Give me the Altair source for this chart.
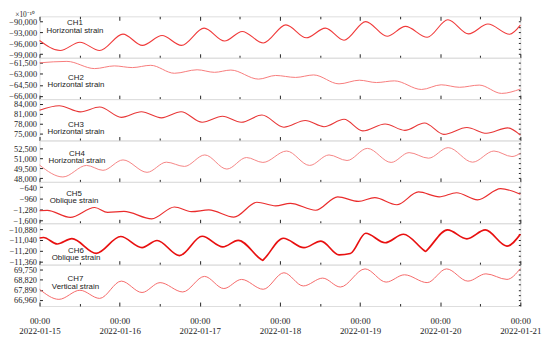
import altair as alt
import pandas as pd

# ---- data (hours after 2022-01-15 00:00, strain values x1e-10) ----
ch1_h = [0, 6.2, 12.1, 18.0, 25.0, 30.8, 36.7, 42.5, 49.3, 55.4, 60.7, 67.0, 73.8, 79.9, 85.6, 91.2, 97.7, 104.1, 109.6, 116.1, 122.3, 128.5, 134.3, 140.8, 144]
ch1_v = [-95230, -98010, -95720, -98010, -93460, -96590, -93870, -96590, -91820, -95370, -92720, -95910, -90920, -94490, -91820, -95150, -90000, -94060, -91330, -94330, -89500, -93400, -90680, -93510, -91000]

ch2_h = [0, 8.2, 16.5, 22.4, 27.8, 33.3, 40.4, 47.2, 52.4, 57.3, 65.6, 70.7, 76.7, 82.1, 89.7, 95.8, 100.9, 106.3, 114.4, 120.3, 125.8, 131.7, 138.4, 144]
ch2_v = [-61480, -61280, -62270, -61900, -62130, -61820, -62910, -62430, -62780, -62470, -63710, -63210, -63480, -63140, -64360, -63860, -64180, -63950, -65130, -64490, -64830, -64530, -65670, -65070]

ch3_h = [0, 5.9, 12.2, 18.0, 24.5, 30.5, 36.5, 42.4, 48.7, 54.8, 60.4, 66.6, 73.2, 79.6, 85.2, 91.2, 96.8, 103.5, 109.4, 115.3, 121.1, 128.0, 133.9, 140.2, 144]
ch3_v = [82080, 83430, 81580, 83050, 79960, 81640, 79810, 81640, 78490, 80260, 78490, 80640, 77020, 79020, 77170, 79370, 75930, 77990, 76080, 78260, 74880, 76930, 75200, 76820, 74670]

ch4_h = [0, 7.0, 14.1, 19.0, 25.0, 32.2, 38.0, 43.4, 49.5, 56.1, 62.0, 66.9, 74.0, 80.9, 86.7, 92.1, 98.2, 105.3, 110.7, 116.5, 122.4, 129.7, 136.1, 141.5, 144]
ch4_v = [49990, 48200, 49940, 49200, 50770, 48900, 50430, 49790, 51520, 49390, 51130, 50390, 52110, 49940, 51520, 50680, 52510, 50390, 51870, 51030, 52620, 50430, 52110, 51280, 51770]

ch5_h = [0, 2.3, 9.2, 16.5, 20.4, 25.3, 33.6, 40.4, 45.5, 50.7, 58.2, 65.1, 70.7, 75.1, 82.7, 89.3, 95.5, 100.4, 107.0, 113.5, 119.7, 124.9, 131.2, 138.1, 144]
ch5_v = [-1317, -1309, -1507, -1224, -1365, -1337, -1549, -1210, -1343, -1295, -1501, -1075, -1176, -1106, -1303, -919, -1049, -942, -1145, -778, -919, -801, -1004, -682, -843]

ch6_h = [0, 1.2, 5.3, 9.7, 17.0, 24.3, 30.7, 35.2, 41.9, 48.7, 54.9, 59.5, 66.3, 66.8, 67.3, 73.0, 79.2, 84.3, 89.7, 93.1, 97.7, 103.5, 109.0, 115.2, 115.6, 116.0, 122.2, 128.0, 133.5, 140.0, 144]
ch6_v = [-11011, -11004, -11099, -11021, -11237, -10989, -11152, -11048, -11270, -10985, -11142, -11045, -11325, -11340, -11318, -11014, -11154, -11056, -11259, -11240, -10941, -11081, -10955, -11196, -11210, -11192, -10892, -11023, -10892, -11131, -10956]

ch7_h = [0, 5.8, 12.1, 18.0, 24.5, 30.7, 36.1, 42.9, 49.4, 55.2, 60.5, 67.0, 73.2, 79.0, 84.8, 90.1, 97.5, 103.8, 109.3, 116.1, 121.9, 128.3, 133.7, 140.0, 144]
ch7_v = [67940, 67000, 67850, 67090, 68700, 67640, 68560, 67690, 69140, 68010, 68860, 67940, 69480, 68250, 68980, 68150, 69840, 68610, 69290, 68560, 69840, 68700, 69380, 68860, 69870]

channels = ["CH1", "CH2", "CH3", "CH4", "CH5", "CH6", "CH7"]
kinds = ["Horizontal strain", "Horizontal strain", "Horizontal strain", "Horizontal strain",
         "Oblique strain", "Oblique strain", "Vertical strain"]
y_ticks = [
    [-99000, -96000, -93000, -90000],
    [-66000, -64500, -63000, -61500],
    [75000, 78000, 81000, 84000],
    [48000, 49500, 51000, 52500],
    [-1600, -1280, -960, -640],
    [-11360, -11200, -11040, -10880],
    [66960, 67890, 68820, 69750],
]

hours = [ch1_h, ch2_h, ch3_h, ch4_h, ch5_h, ch6_h, ch7_h]
values = [ch1_v, ch2_v, ch3_v, ch4_v, ch5_v, ch6_v, ch7_v]

# ---- styling ----
y_domains = [
    [-100000, -88550],
    [-66450, -60780],
    [73050, 85400],
    [47460, 53700],
    [-1676, -490],
    [-11404, -10793],
    [66380, 70238],
]
colors = ["#f03a3a", "#f77b7b", "#e83636", "#f58484", "#ea2c2c", "#e81010", "#f56a6a"]
widths = [1.1, 1.0, 1.1, 1.0, 1.2, 1.7, 1.0]
label_x = [36, 37, 37, 38, 35, 37, 36.5]
label_y = [7.2, 20.2, 26.5, 14, 12.3, 28, 15]

W = 488
H = 42
SERIF = "Liberation Serif"
SANS = "Liberation Sans"
INK = "#222222"

major = list(range(0, 145, 24))
minor = list(range(12, 145, 24))


def panel(i):
    last = i == len(channels) - 1
    df = pd.DataFrame({"h": hours[i], "v": values[i]})
    xs = alt.Scale(domain=[0, 144], nice=False, zero=False)
    ys = alt.Scale(domain=y_domains[i], nice=False, zero=False)
    step = y_ticks[i][1] - y_ticks[i][0]
    half = [y_ticks[i][0] + k * step / 2 for k in range(-2, 10)
            if y_domains[i][0] <= y_ticks[i][0] + k * step / 2 <= y_domains[i][1]]

    x_major_axis = alt.Axis(
        orient="bottom", values=major, tickSize=4, offset=-4, domain=False, grid=False,
        tickColor=INK, labels=last,
        labelExpr="['00:00', timeFormat(datetime(2022, 0, 15 + datum.value / 24), '%Y-%m-%d')]",
        labelFont=SERIF, labelFontSize=9, labelColor=INK, labelLineHeight=9.5,
        labelPadding=11, labelFlush=False, labelOverlap=False,
    )
    y_left_axis = alt.Axis(
        orient="left", values=y_ticks[i], tickSize=3, offset=-3, domain=False, grid=False,
        tickColor=INK, labelExpr="replace(format(datum.value, ','), '-', '\u2212')",
        labelFont=SERIF, labelFontSize=8.5, labelColor=INK, labelPadding=3,
    )
    line = alt.Chart(df).mark_line(
        color=colors[i], strokeWidth=widths[i], interpolate="monotone"
    ).encode(
        x=alt.X("h:Q", scale=xs, title=None, axis=x_major_axis),
        y=alt.Y("v:Q", scale=ys, title=None, axis=y_left_axis),
    )
    ghost = alt.Chart(df).mark_line(opacity=0).encode(
        x=alt.X("h:Q", scale=xs, title=None, axis=alt.Axis(
            orient="bottom", values=minor, tickSize=2.5, offset=-2.5, domain=False,
            grid=False, labels=False, tickColor=INK)),
        y=alt.Y("v:Q", scale=ys, title=None, axis=alt.Axis(
            orient="right", values=half, tickSize=2, offset=-2, domain=False,
            grid=False, labels=False, tickColor=INK)),
    )
    layers = [line, ghost]
    if i == 0:
        top_major = alt.Chart(df).mark_line(opacity=0).encode(
            x=alt.X("h:Q", scale=xs, title=None, axis=alt.Axis(
                orient="top", values=major, tickSize=4, offset=-4, domain=False,
                grid=False, labels=False, tickColor=INK)),
            y=alt.Y("v:Q", scale=ys, title=None, axis=None),
        )
        top_minor = alt.Chart(df).mark_line(opacity=0).encode(
            x=alt.X("h:Q", scale=xs, title=None, axis=alt.Axis(
                orient="top", values=minor, tickSize=2.5, offset=-2.5, domain=False,
                grid=False, labels=False, tickColor=INK)),
            y=alt.Y("v:Q", scale=ys, title=None, axis=None),
        )
        layers += [top_major, top_minor]
    one = alt.Data(values=[{}])
    label = alt.Chart(one).mark_text(
        text=[channels[i], kinds[i]], font=SANS, fontSize=8, lineHeight=7.3, color=INK,
        baseline="middle", align="center"
    ).encode(x=alt.value(label_x[i]), y=alt.value(label_y[i]))
    layers += [label]
    return alt.layer(*layers).resolve_axis(x="independent", y="independent").properties(
        width=W, height=H
    )


chart = alt.vconcat(*[panel(i) for i in range(len(channels))], spacing=0, bounds="flush").properties(
    title=alt.TitleParams(
        text="×10⁻¹⁰", anchor="start", font=SERIF, fontSize=7.5, fontWeight="normal",
        color=INK, offset=-3, dx=7, baseline="top"
    ),
    padding={"left": 0, "top": 0, "right": 0, "bottom": 0},
).configure_view(stroke=INK, strokeWidth=1).configure(background="white")

chart.save("out.html", embed_options={"renderer": "svg", "actions": False})
